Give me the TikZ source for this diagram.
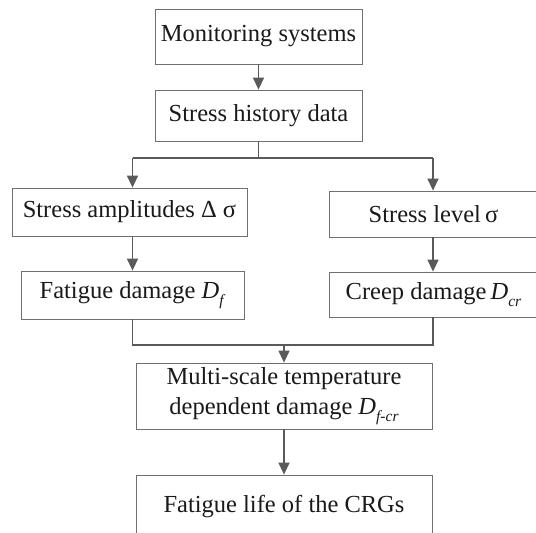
\documentclass[tikz,border=0pt]{standalone}
\usepackage{fontspec}
\setmainfont{Liberation Serif}
\usetikzlibrary{arrows.meta}
\definecolor{linegray}{HTML}{5A5A5A}
\definecolor{boxgray}{HTML}{707070}
\definecolor{txt}{HTML}{1A1A1A}
\newcommand{\subit}[1]{\raisebox{-0.28em}{\fontsize{15.5}{15.5}\selectfont\textit{#1}}}
\begin{document}
\begin{tikzpicture}[x=1pt,y=-1pt,
  box/.style={draw=boxgray, line width=0.8pt, fill=white, text=txt, inner sep=0pt,
    font=\fontsize{24.5}{29.5}\selectfont, align=center},
  conn/.style={draw=linegray, line width=1.4pt},
  arr/.style={conn, -{Triangle[length=12pt,width=11pt]}}]
\useasboundingbox (0,0) rectangle (536,533);
\node[box, minimum width=207pt, minimum height=55pt] (mon) at (258.5,36.5) {Monitoring systems};
\node[box, minimum width=207pt, minimum height=51pt] (hist) at (258.5,115.5) {Stress history data};
\node[box, minimum width=235pt, minimum height=48pt] (amp) at (129.5,212) {Stress amplitudes Δ σ};
\node[box, minimum width=209pt, minimum height=46pt] (lev) at (433.5,214) {Stress level\,σ};
\node[box, minimum width=223pt, minimum height=48pt] (fat) at (132.5,295) {Fatigue damage \textit{D}\subit{f}};
\node[box, minimum width=209pt, minimum height=45pt] (creep) at (433.5,294.5) {Creep damage\,\textit{D}\subit{cr}};
\node[box, minimum width=296pt, minimum height=66pt] (multi) at (284,396) {Multi-scale temperature\\dependent damage \textit{D}\subit{f-cr}};
\node[box, minimum width=296pt, minimum height=64pt] (life) at (284,507) {Fatigue life of the CRGs};
\coordinate (split) at (258.5,158);
\coordinate (lc) at (132.5,158);
\coordinate (rc) at (433,158);
\coordinate (lb) at (132.5,345);
\coordinate (rb) at (433,345);
\coordinate (mc) at (284,345);
\draw[arr] (mon) -- (hist);
\draw[conn] (hist.south) -- (split);
\draw[conn] (lc) -- (rc);
\draw[arr] (lc) -- (lc |- amp.north);
\draw[arr] (rc) -- (rc |- lev.north);
\draw[arr] (lc |- amp.south) -- (lc |- fat.north);
\draw[arr] (rc |- lev.south) -- (rc |- creep.north);
\draw[conn] (lc |- fat.south) -- (lb) -- (rb) -- (rc |- creep.south);
\draw[arr] (mc) -- (multi.north);
\draw[arr] (multi) -- (life);
\end{tikzpicture}
\end{document}
